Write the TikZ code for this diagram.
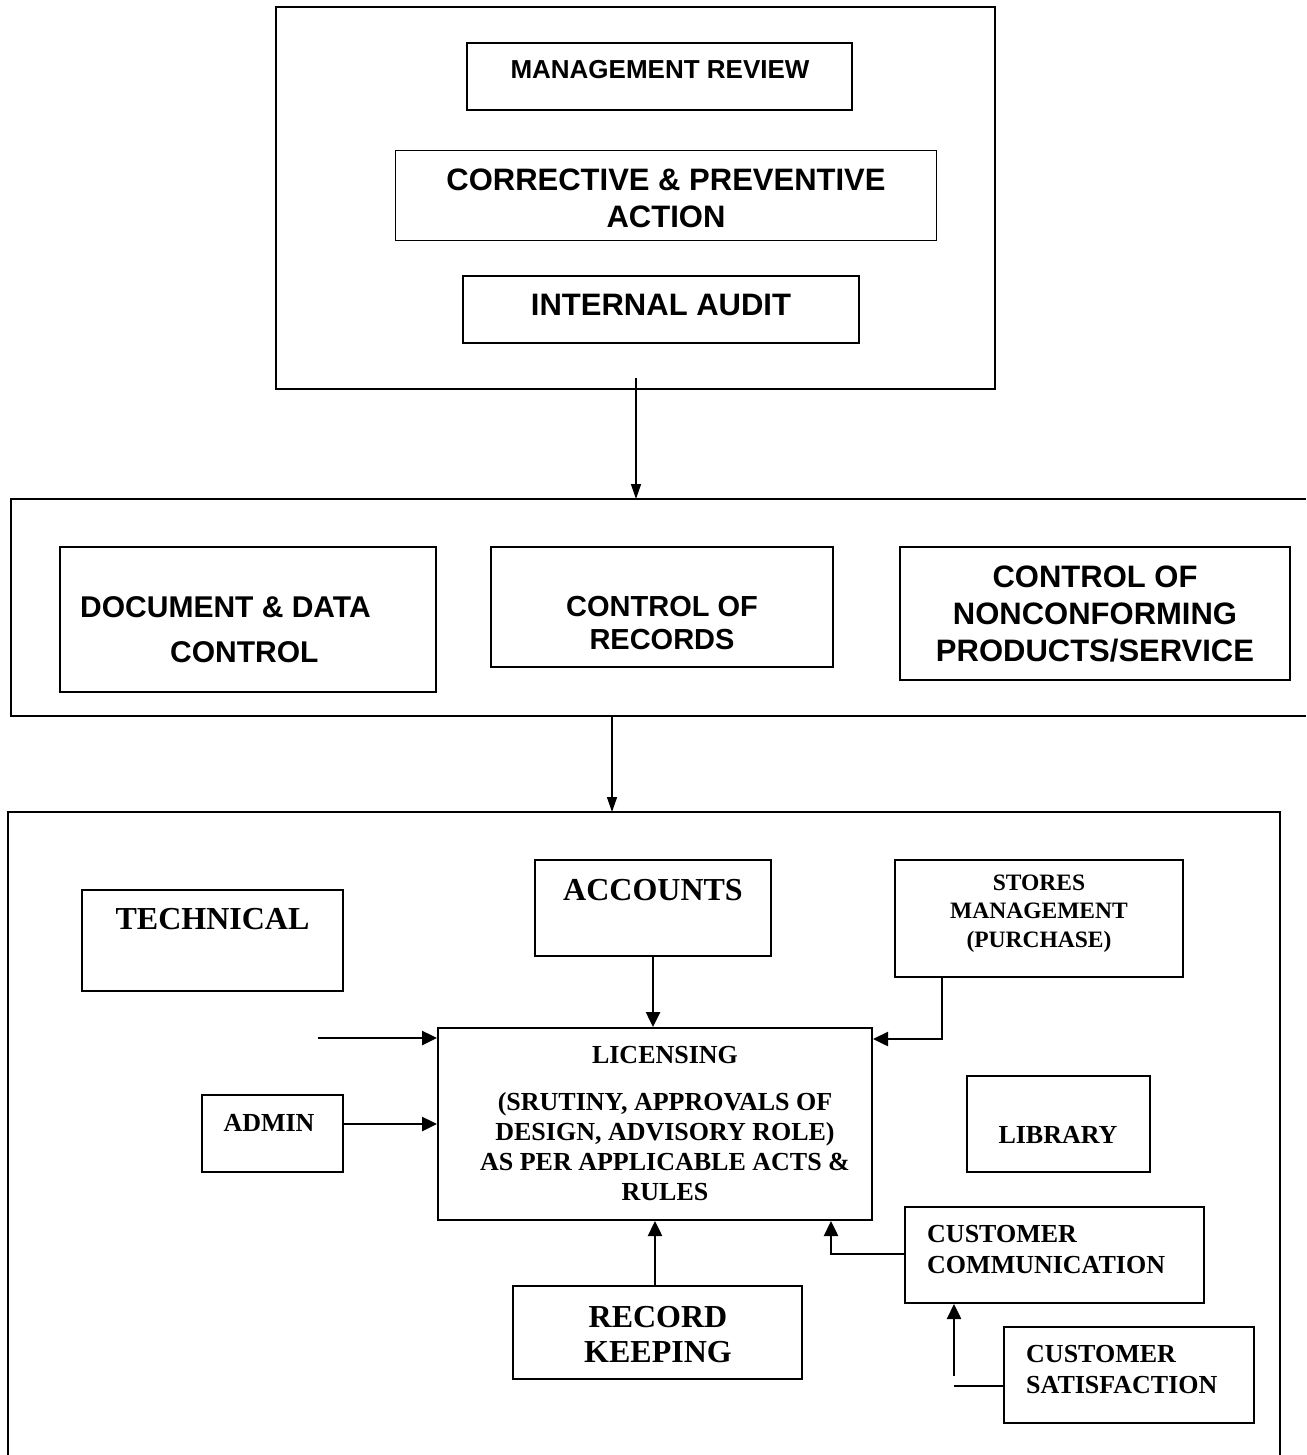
\documentclass[tikz,border=0pt]{standalone}
\usepackage{fontspec}
\setmainfont{Liberation Serif}
\newfontfamily\arialfam{Liberation Sans}
\usetikzlibrary{arrows.meta}
\newcommand\fsz[2]{\fontsize{#1}{#2}\selectfont}
\begin{document}
\begin{tikzpicture}[x=1pt,y=-1pt,
  bx/.style={draw, line width=2pt, inner sep=0pt},
  thinbx/.style={draw, line width=1pt, inner sep=0pt},
  sans/.style 2 args={inner sep=0pt, align=center, font=\arialfam\bfseries\fsz{#1}{#2}},
  sansl/.style 2 args={inner sep=0pt, align=left, font=\arialfam\bfseries\fsz{#1}{#2}},
  serif/.style 2 args={inner sep=0pt, align=center, font=\bfseries\fsz{#1}{#2}},
  serifl/.style 2 args={inner sep=0pt, align=left, font=\bfseries\fsz{#1}{#2}},
  arrA/.style={line width=1.5pt, -{Triangle[length=15pt,width=10pt]}},
  arrB/.style={line width=2.5pt, -{Triangle[length=15pt,width=14pt]}},
  frame/.style={line width=2pt}
]
\useasboundingbox[fill=white] (0,0) rectangle (1306,1455);

% ---------- top section ----------
\node[bx, minimum width=719pt, minimum height=382pt] (top) at (635.5,198) {};
\node[bx, line width=2.5pt, minimum width=385pt, minimum height=67pt] (mr) at (659.5,76.5) {};
\node[sans={26}{30}] (mrt) at (660,70) {MANAGEMENT REVIEW};
\node[thinbx, minimum width=541pt, minimum height=90pt] (cpa) at (665.5,196) {};
\node[sans={31}{37}] (cpat) at (666,198.5) {CORRECTIVE \& PREVENTIVE\\ACTION};
\node[thinbx, line width=1.2pt, minimum width=396pt, minimum height=67pt] (ia) at (661,309.5) {};
\node[sans={31}{37}] (iat) at (661,305) {INTERNAL AUDIT};

\coordinate (a1s) at (636,378);
\coordinate (a1e) at (636,499);
\draw[arrA] (a1s) -- (a1e);

% ---------- middle section ----------
\draw[frame] (1306,499) -- (11,499) -- (11,716) -- (1306,716);
\node[bx, minimum width=376pt, minimum height=145pt] (doc) at (248,619.5) {};
\node[sansl={30}{45}, anchor=west] (doct) at (80,629.5) {DOCUMENT \& DATA\\\hspace*{90pt}CONTROL};
\node[bx, minimum width=342pt, minimum height=120pt] (rec) at (662,607) {};
\node[sans={29}{33}] (rect) at (662,623.5) {CONTROL OF\\RECORDS};
\node[bx, minimum width=390pt, minimum height=133pt] (nc) at (1095,613.5) {};
\node[sans={31}{37}] (nct) at (1095,614) {CONTROL OF\\NONCONFORMING\\PRODUCTS/SERVICE};

\coordinate (a2s) at (612,716);
\coordinate (a2e) at (612,812);
\draw[arrA] (a2s) -- (a2e);

% ---------- bottom section ----------
\draw[frame] (8,1455) -- (8,812) -- (1280,812) -- (1280,1455);

\node[bx, minimum width=261pt, minimum height=101pt] (tech) at (212.5,940.5) {};
\node[serif={32}{36}] (techt) at (212.5,919) {TECHNICAL};
\node[bx, minimum width=236pt, minimum height=96pt] (acc) at (653,908) {};
\node[serif={32}{36}] (acct) at (653,890) {ACCOUNTS};
\node[bx, minimum width=288pt, minimum height=117pt] (st) at (1039,918.5) {};
\node[serif={23.5}{28.5}] (stt) at (1039,913.5) {STORES\\MANAGEMENT\\(PURCHASE)};
\node[bx, minimum width=434pt, minimum height=192pt] (lic) at (655,1124) {};
\node[serif={26}{30}] (lict) at (665,1123.5) {LICENSING\\[17pt](SRUTINY, APPROVALS OF\\DESIGN, ADVISORY ROLE)\\AS PER APPLICABLE ACTS \&\\RULES};
\node[bx, minimum width=141pt, minimum height=77pt] (adm) at (272.5,1133.5) {};
\node[serif={26}{30}] (admt) at (269,1123) {ADMIN};
\node[bx, minimum width=183pt, minimum height=96pt] (lib) at (1058.5,1124) {};
\node[serif={26}{30}] (libt) at (1058,1135) {LIBRARY};
\node[bx, minimum width=299pt, minimum height=96pt] (cc) at (1054.5,1255) {};
\node[serifl={26}{31}, anchor=west] (cct) at (927,1249.5) {CUSTOMER\\COMMUNICATION};
\node[bx, minimum width=250pt, minimum height=96pt] (cs) at (1129,1375) {};
\node[serifl={26}{31}, anchor=west] (cst) at (1026,1369.5) {CUSTOMER\\SATISFACTION};
\node[bx, minimum width=289pt, minimum height=93pt] (rk) at (657.5,1332.5) {};
\node[serif={32}{35}] (rkt) at (658,1334.5) {RECORD\\KEEPING};

% connectors
\coordinate (tin) at (318,1038);
\draw[arrB] (tin) -- (tin -| lic.west);
\draw[arrB] (adm.east |- lic.west) -- (lic.west);
\draw[arrB] (acc.south) -- (acc.south |- lic.north);
\draw[arrB] ([xshift=48pt]st.south west) |- ([yshift=-12pt]lic.north east);
\draw[arrB] (rk.north -| 655,0) -- (lic.south -| 655,0);
\draw[arrB] ([yshift=1pt]cc.west) -| ([xshift=-42pt]lic.south east);
\coordinate (sb) at (954,1386);
\coordinate (sv) at (954,1376);
\draw[line width=2pt] (cs.west |- sb) -- (sb);
\draw[arrB] (sv) -- (sv |- cc.south);
\end{tikzpicture}
\end{document}
